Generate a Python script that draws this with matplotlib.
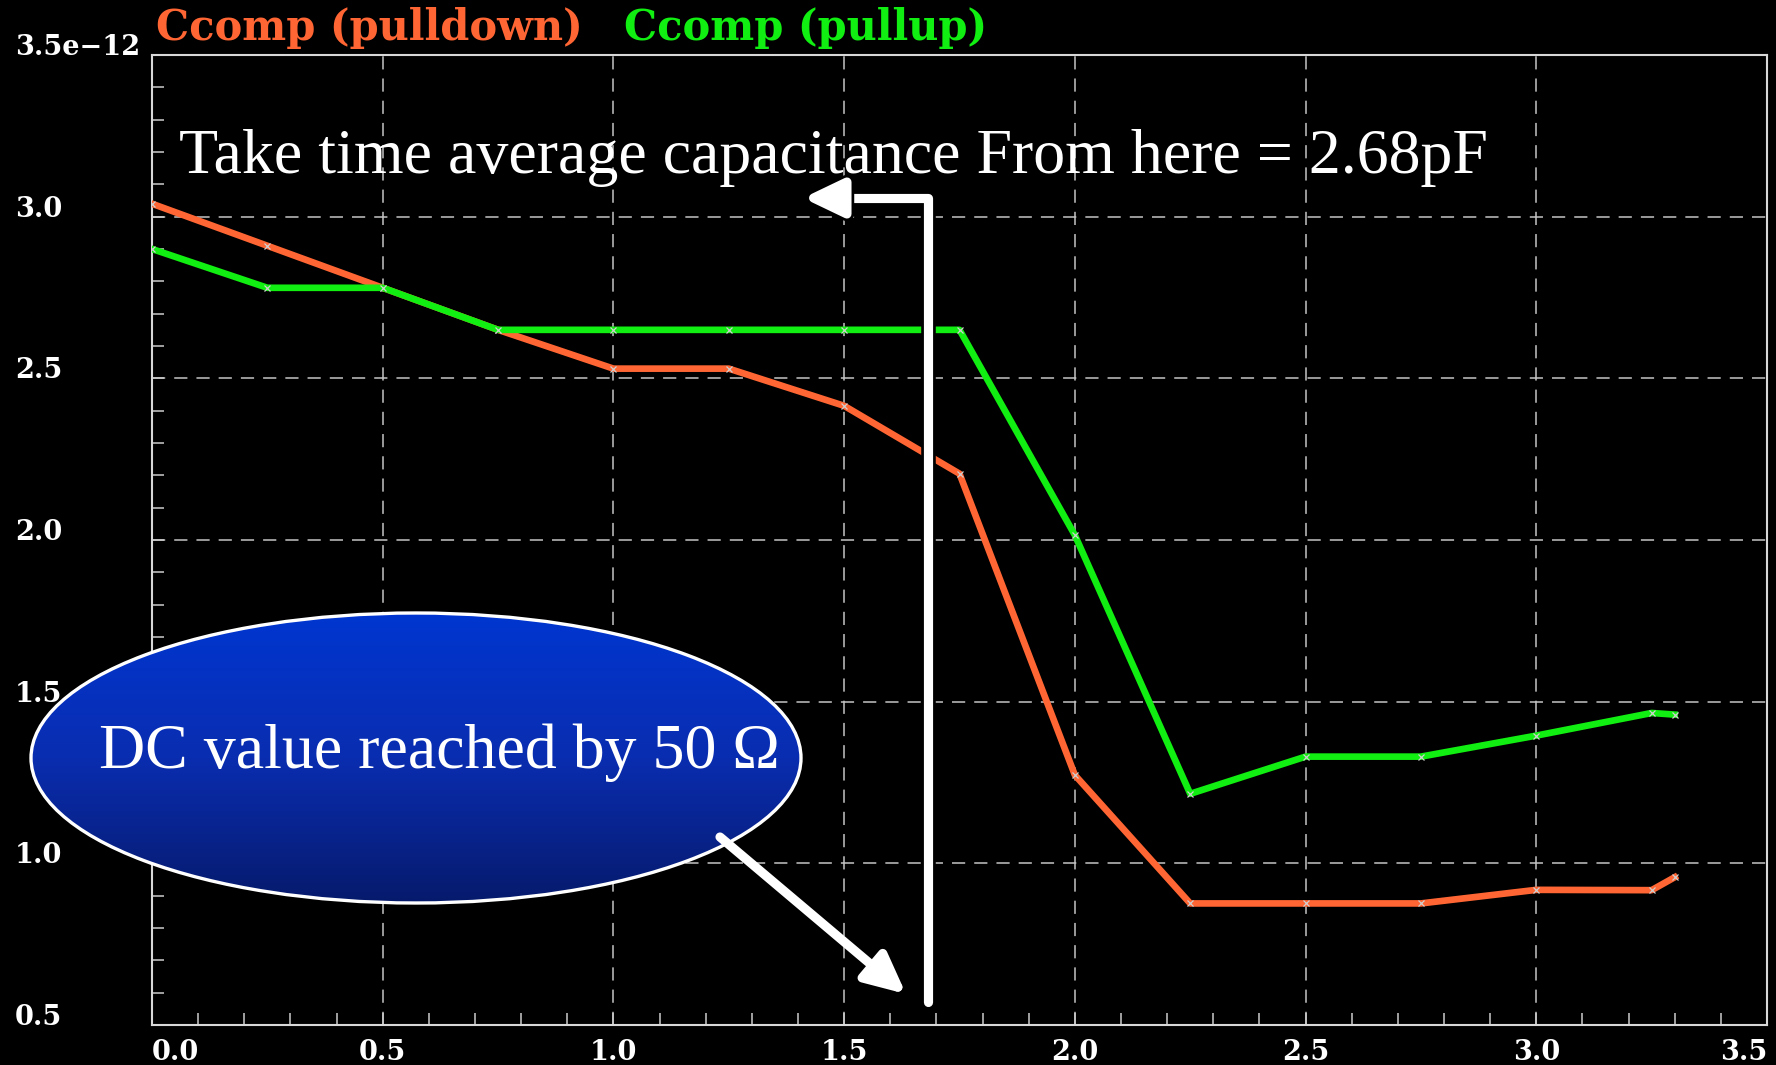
import numpy as np
import matplotlib
matplotlib.use("Agg")
import matplotlib.pyplot as plt
from matplotlib.patches import Ellipse, FancyArrowPatch, ArrowStyle
from matplotlib.path import Path
from matplotlib.ticker import MultipleLocator
from matplotlib.colors import LinearSegmentedColormap
import matplotlib.patheffects as pe

plt.rcParams['lines.scale_dashes'] = False

# Compensation capacitance (pF) versus time (ns)
time_ns = [0.0, 0.25, 0.5, 0.75, 1.0, 1.25, 1.5, 1.75, 2.0, 2.25, 2.5, 2.75, 3.0, 3.25, 3.3]
ccomp_pulldown = [3.04, 2.91, 2.78, 2.65, 2.53, 2.53, 2.415, 2.205, 1.273, 0.876, 0.876,
                  0.876, 0.918, 0.917, 0.957]
ccomp_pullup = [2.90, 2.78, 2.78, 2.65, 2.65, 2.65, 2.65, 2.65, 2.015, 1.215, 1.33,
                1.33, 1.395, 1.465, 1.46]
series_names = ["Ccomp (pulldown)", "Ccomp (pullup)"]
series_colors = ["#ff6633", "#11ee11"]

x_ticks = [0.0, 0.5, 1.0, 1.5, 2.0, 2.5, 3.0, 3.5]
x_tick_labels = ["0.0", "0.5", "1.0", "1.5", "2.0", "2.5", "3.0", "3.5"]
y_ticks = [0.5, 1.0, 1.5, 2.0, 2.5, 3.0, 3.5]
y_tick_labels = ["0.5", "1.0", "1.5", "2.0", "2.5", "3.0", "3.5e\u221212"]

note_average = "Take time average capacitance From here = 2.68pF"
note_dc = "DC value reached by 50 \u03a9"

W, H = 1776, 1065
fig = plt.figure(figsize=(W / 100, H / 100), dpi=100, facecolor="black")

# ---- main plot ----
ax = fig.add_axes([152 / W, 40 / H, 1615 / W, 970 / H], facecolor="black")
ax.plot(time_ns, ccomp_pulldown, color=series_colors[0], lw=4.8, zorder=3,
        marker="x", ms=4.5, mec="#d0d0d0", mew=0.9)
ax.plot(time_ns, ccomp_pullup, color=series_colors[1], lw=4.8, zorder=4,
        marker="x", ms=4.5, mec="#d0d0d0", mew=0.9)

ax.set_xlim(0, 3.5)
ax.set_ylim(0.5, 3.5)
ax.xaxis.set_minor_locator(MultipleLocator(0.1))
ax.yaxis.set_minor_locator(MultipleLocator(0.1))
ax.grid(True, which="major", color="#c4c4c4", lw=1.1, dashes=(9.5, 6.5))
ax.set_axisbelow(True)

for s in ax.spines.values():
    s.set_color("#d8d8d8")
    s.set_linewidth(1.5)

ax.tick_params(which="both", direction="in", length=8.6, width=1.1, color="#cccccc",
               top=False, right=False)

tick_font = dict(family="DejaVu Serif", weight="bold", size=19.5, color="white")
ax.set_xticks(x_ticks)
ax.set_xticklabels(x_tick_labels, **tick_font)
ax.set_yticks(y_ticks)
ax.set_yticklabels(y_tick_labels, **tick_font)
ax.tick_params(axis="x", which="major", pad=25)
ax.tick_params(axis="y", which="major", pad=98.6)
for lab in ax.get_xticklabels():
    lab.set_va("baseline")
xl = ax.get_xticklabels()
xl[0].set_ha("left")
xl[-1].set_ha("right")
for lab in ax.get_yticklabels():
    lab.set_ha("left")
    lab.set_va("baseline")

# series names above the plot
title_font = dict(family="DejaVu Serif", weight="bold", size=30, va="baseline", ha="left")
fig.text(156 / W, 1 - 40 / H, series_names[0], color=series_colors[0], **title_font)
fig.text(624 / W, 1 - 40 / H, series_names[1], color=series_colors[1], **title_font)

# ---- annotation layer in pixel coordinates ----
ov = fig.add_axes([0, 0, 1, 1], facecolor="none")
ov.axis("off")

# gradient-filled ellipse
cx, cy, ew, eh = 416, 758, 770, 290
blue = LinearSegmentedColormap.from_list("blue_fade", ["#0036d0", "#0a2db0", "#061a6c"])
grad = np.linspace(0, 1, 256).reshape(-1, 1)
im = ov.imshow(grad, cmap=blue, aspect="auto", origin="upper",
               extent=(cx - ew / 2, cx + ew / 2, cy + eh / 2, cy - eh / 2), zorder=2)
clip = Ellipse((cx, cy), ew, eh, transform=ov.transData)
im.set_clip_path(clip)
ov.add_patch(Ellipse((cx, cy), ew, eh, facecolor="none", edgecolor="white", lw=2.4, zorder=3))
ov.text(99, 768, note_dc, family="Liberation Serif", size=46, color="white",
        ha="left", va="baseline", zorder=4)

ov.text(179, 173, note_average, family="Liberation Serif", size=46, color="white",
        ha="left", va="baseline", zorder=4)

head = ArrowStyle("-|>", head_length=24, head_width=11.5)

# bracket arrow: up from the curve region, then left towards the note
bracket = Path([(928, 1002), (928, 198), (803, 198)],
               [Path.MOVETO, Path.LINETO, Path.LINETO])
arr1 = FancyArrowPatch(path=bracket, arrowstyle=head,
                       color="white", lw=6.6, capstyle="round", joinstyle="round", zorder=5)
arr1.set_path_effects([pe.Stroke(linewidth=10.5, foreground="black"), pe.Normal()])
ov.add_patch(arr1)

# diagonal arrow from the ellipse
arr2 = FancyArrowPatch(path=Path([(720, 837), (906, 994)], [Path.MOVETO, Path.LINETO]),
                       arrowstyle=head,
                       color="white", lw=6.6, capstyle="round", joinstyle="round", zorder=5)
ov.add_patch(arr2)

ov.set_xlim(0, W)
ov.set_ylim(H, 0)

fig.savefig("out.png", dpi=100, facecolor="black")
